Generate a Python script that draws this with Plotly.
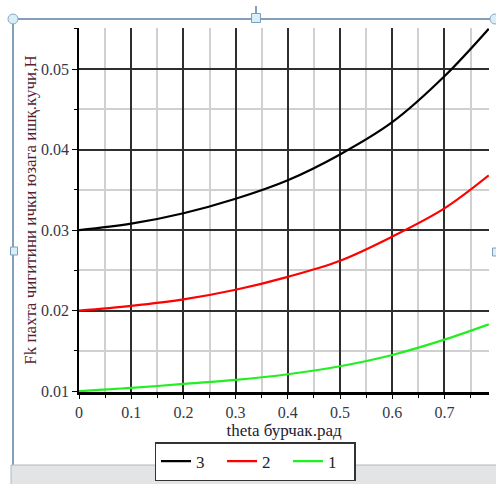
import plotly.graph_objects as go

# ---- data ----
theta = [0.0, 0.1, 0.2, 0.3, 0.4, 0.5, 0.6, 0.7, 0.785]
F3 = [0.0300, 0.0308, 0.0321, 0.0339, 0.0362, 0.0394, 0.0434, 0.0491, 0.0550]
F2 = [0.0200, 0.0206, 0.0214, 0.0226, 0.0242, 0.0262, 0.0292, 0.0327, 0.0368]
F1 = [0.0100, 0.0104, 0.0109, 0.0114, 0.0121, 0.0131, 0.0145, 0.0164, 0.0183]
series_names = ["3", "2", "1"]
series_colors = ["#000000", "#ff0000", "#22ee22"]
x_title = "theta бурчак.рад"
y_title = "Fk пахта чигитини ички юзага ишқ.кучи,Н"

W, H = 496, 484
L, R, T, B = 79, 7, 28, 92
PW, PH = W - L - R, H - T - B


def px(x):
    return (x - L) / PW


def py(y):
    return (H - B - y) / PH


fig = go.Figure()
for name, ys, col in zip(series_names, [F3, F2, F1], series_colors):
    fig.add_trace(go.Scatter(x=theta, y=ys, mode="lines", name=name,
                             line=dict(color=col, width=2.2, shape="spline")))

serif = "Liberation Serif"
tickfont = dict(family=serif, size=16, color="#33394a")

fig.update_layout(
    width=W, height=H,
    margin=dict(l=L, r=R, t=T, b=B, autoexpand=False),
    paper_bgcolor="white", plot_bgcolor="white",
    showlegend=True,
    legend=dict(orientation="h", x=px(255), xanchor="center", y=py(442), yanchor="top",
                bordercolor="#333333", borderwidth=1.5, bgcolor="white",
                font=dict(family=serif, size=17, color="#222222"),
                tracegroupgap=0, entrywidth=21, entrywidthmode="pixels"),
    xaxis=dict(range=[0, 0.7854], dtick=0.1, tick0=0, showgrid=True,
               gridcolor="#2e2e2e", gridwidth=1.5, zeroline=False,
               showline=True, linecolor="#000000", linewidth=2.5,
               ticks="outside", ticklen=4, tickcolor="#000000", tickwidth=1,
               tickfont=tickfont,
               minor=dict(dtick=0.05, tick0=0, showgrid=True, gridcolor="#d0d0d0",
                          gridwidth=1.5, ticks="outside", ticklen=3, tickcolor="#000000"),
               title=dict(text=x_title, font=dict(family=serif, size=17, color="#222233"),
                          standoff=3),
               automargin=False),
    yaxis=dict(range=[0.0099, 0.0551], dtick=0.01, tick0=0, showgrid=True,
               gridcolor="#2e2e2e", gridwidth=1.5, zeroline=False,
               showline=True, linecolor="#000000", linewidth=1.5,
               ticks="outside", ticklen=5, tickcolor="#000000", tickwidth=1,
               tickfont=tickfont, tickformat=".2f",
               minor=dict(dtick=0.005, tick0=0, showgrid=True, gridcolor="#d0d0d0",
                          gridwidth=1.5, ticks="outside", ticklen=3, tickcolor="#000000"),
               title=dict(text=y_title, font=dict(family=serif, size=17, color="#5a1f2e"),
                          standoff=0),
               automargin=False),
)

frame_col = "#5b7fa8"
shapes = []
# document frame lines
shapes.append(dict(type="line", xref="paper", yref="paper", x0=px(13), x1=px(496),
                   y0=py(19), y1=py(19), line=dict(color=frame_col, width=1.5), layer="above"))
shapes.append(dict(type="line", xref="paper", yref="paper", x0=px(13), x1=px(13),
                   y0=py(19), y1=py(465), line=dict(color=frame_col, width=1.5), layer="above"))
# handles
shapes.append(dict(type="line", xref="paper", yref="paper", x0=px(256), x1=px(256),
                   y0=py(6), y1=py(14), line=dict(color=frame_col, width=1.5), layer="above"))
for (cx, cy) in [(13, 19), (495, 19)]:
    shapes.append(dict(type="circle", xref="paper", yref="paper", x0=px(cx - 5), x1=px(cx + 5),
                       y0=py(cy - 5), y1=py(cy + 5), fillcolor="#d8eef8",
                       line=dict(color="#8aa8c0", width=1), layer="above"))
for (cx, cy, w, h) in [(256, 18, 9, 9), (14, 251, 7, 8), (496, 252, 7, 8)]:
    shapes.append(dict(type="rect", xref="paper", yref="paper", x0=px(cx - w / 2), x1=px(cx + w / 2),
                       y0=py(cy - h / 2), y1=py(cy + h / 2), fillcolor="#d8eef8",
                       line=dict(color="#7f9fb8", width=1), layer="above"))
# grey bar at the bottom
shapes.append(dict(type="rect", xref="paper", yref="paper", x0=px(11), x1=px(497),
                   y0=py(465), y1=py(485), fillcolor="#e2e4e6",
                   line=dict(color="#b4b8bc", width=1), layer="above"))
fig.update_layout(shapes=shapes)

fig.write_html("out.html")
